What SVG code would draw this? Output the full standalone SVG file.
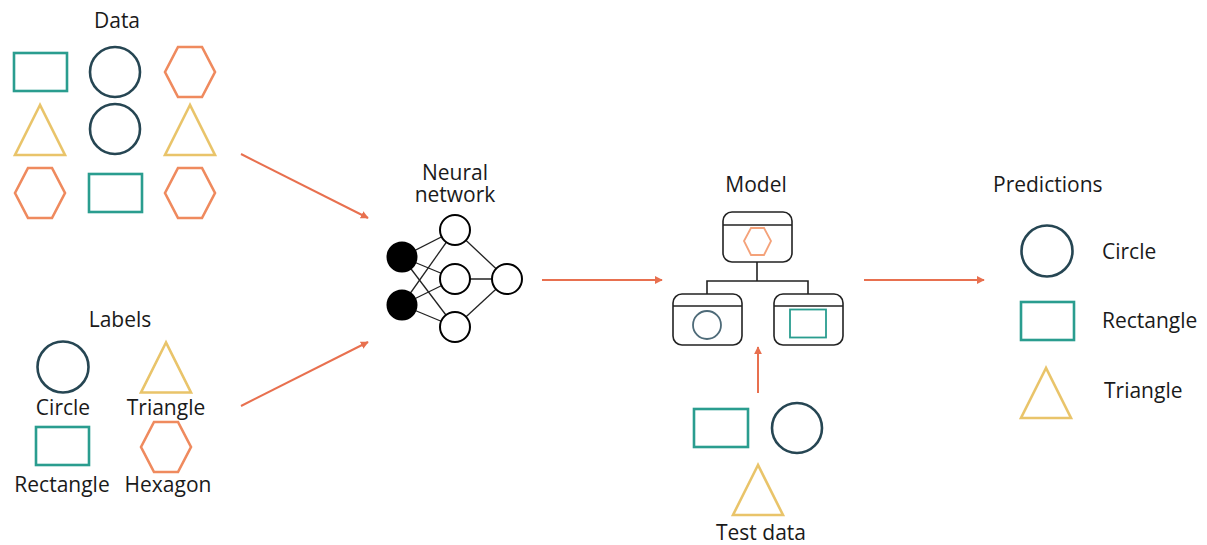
<svg xmlns="http://www.w3.org/2000/svg" width="1207" height="545" viewBox="0 0 1207 545">
<style>
text{font-family:"Open Sans","Liberation Sans",sans-serif;font-size:21px;fill:#1a1a1a}
.c{text-anchor:middle}
.circ{fill:none;stroke:#264653;stroke-width:2.6}
.rect{fill:none;stroke:#2a9d8f;stroke-width:2.6}
.tri{fill:none;stroke:#e9c46a;stroke-width:2.6}
.hex{fill:none;stroke:#ef8a5e;stroke-width:2.6}
.nn{fill:#fff;stroke:#000;stroke-width:2}
.nnf{fill:#000;stroke:#000;stroke-width:2}
.edge{stroke:#222;stroke-width:1.3}
.box{fill:#fff;stroke:#222;stroke-width:1.6}
.arr{stroke:#e8704f;stroke-width:2;fill:none;marker-end:url(#ah)}
</style>
<defs>
<marker id="ah" viewBox="0 0 10 10" refX="9" refY="5" markerWidth="4" markerHeight="4" orient="auto" markerUnits="strokeWidth">
<path d="M0,0 L10,5 L0,10 z" fill="#e8704f"/>
</marker>
<polygon id="hexs" points="-25,0 -12,-25 12,-25 25,0 12,25 -12,25"/>
<polygon id="tris" points="0,-25 -25,25 25,25"/>
</defs>
<rect width="1207" height="545" fill="#fff"/>

<g id="data">
<text class="c" x="117" y="28">Data</text>
<rect class="rect" x="14" y="53" width="53" height="38"/>
<circle class="circ" cx="115" cy="72" r="25"/>
<use class="hex" href="#hexs" x="190" y="72"/>
<use class="tri" href="#tris" x="40" y="130"/>
<circle class="circ" cx="115" cy="129" r="25"/>
<use class="tri" href="#tris" x="190" y="130"/>
<use class="hex" href="#hexs" x="40" y="193"/>
<rect class="rect" x="89" y="174" width="53" height="38"/>
<use class="hex" href="#hexs" x="190" y="193"/>
</g>

<g id="labels">
<text class="c" x="120" y="327">Labels</text>
<circle class="circ" cx="63" cy="367" r="25.5"/>
<use class="tri" href="#tris" x="166" y="367.5"/>
<text class="c" x="63" y="415">Circle</text>
<text class="c" x="166" y="415">Triangle</text>
<rect class="rect" x="36" y="427" width="53" height="38"/>
<use class="hex" href="#hexs" x="166" y="447"/>
<text class="c" x="62" y="492">Rectangle</text>
<text class="c" x="168" y="492">Hexagon</text>
</g>

<g id="neural-network">
<text class="c" x="455" y="180">Neural</text>
<text class="c" x="455" y="202">network</text>
<g>
<line class="edge" x1="402" y1="257" x2="455" y2="230"/>
<line class="edge" x1="402" y1="257" x2="455" y2="279"/>
<line class="edge" x1="402" y1="257" x2="455" y2="327"/>
<line class="edge" x1="402" y1="305" x2="455" y2="230"/>
<line class="edge" x1="402" y1="305" x2="455" y2="279"/>
<line class="edge" x1="402" y1="305" x2="455" y2="327"/>
<line class="edge" x1="455" y1="230" x2="507" y2="279"/>
<line class="edge" x1="455" y1="279" x2="507" y2="279"/>
<line class="edge" x1="455" y1="327" x2="507" y2="279"/>
</g>
<circle class="nnf" cx="402" cy="257" r="14.5"/>
<circle class="nnf" cx="402" cy="305" r="14.5"/>
<circle class="nn" cx="455" cy="230" r="15"/>
<circle class="nn" cx="455" cy="279" r="15"/>
<circle class="nn" cx="455" cy="327" r="15"/>
<circle class="nn" cx="507" cy="279" r="15"/>
</g>

<g id="model">
<text class="c" x="756" y="192">Model</text>
<path d="M757,262 V281 M707,294 V281 H808 V294" fill="none" stroke="#222" stroke-width="1.6"/>
<rect class="box" x="723" y="212" width="69" height="50" rx="9"/>
<line x1="723" y1="225" x2="792" y2="225" stroke="#222" stroke-width="1.6"/>
<polygon points="744,241 751,228 764,228 771,241 764,255 751,255" fill="none" stroke="#f4a27a" stroke-width="1.8"/>
<rect class="box" x="673" y="294" width="69" height="51" rx="9"/>
<line x1="673" y1="306" x2="742" y2="306" stroke="#222" stroke-width="1.6"/>
<circle cx="707" cy="325" r="14" fill="none" stroke="#4d6a78" stroke-width="1.8"/>
<rect class="box" x="774" y="294" width="69" height="51" rx="9"/>
<line x1="774" y1="306" x2="843" y2="306" stroke="#222" stroke-width="1.6"/>
<rect x="790" y="309.5" width="36" height="28" fill="none" stroke="#2a9d8f" stroke-width="1.8"/>
</g>

<g id="test-data">
<rect class="rect" x="694" y="409" width="54" height="38"/>
<circle class="circ" cx="797" cy="428" r="25"/>
<use class="tri" href="#tris" x="758" y="490"/>
<text class="c" x="761" y="540">Test data</text>
</g>

<g id="predictions">
<text x="993" y="192">Predictions</text>
<circle class="circ" cx="1047" cy="251" r="25.5"/>
<text x="1102" y="259">Circle</text>
<rect class="rect" x="1021" y="302" width="53" height="38"/>
<text x="1102" y="328">Rectangle</text>
<use class="tri" href="#tris" x="1046" y="393"/>
<text x="1104" y="398">Triangle</text>
</g>

<g id="connectors">
<line class="arr" x1="241" y1="154" x2="368" y2="218"/>
<line class="arr" x1="241" y1="406" x2="368" y2="342"/>
<line class="arr" x1="542" y1="280" x2="662" y2="280"/>
<line class="arr" x1="864" y1="280" x2="984" y2="280"/>
<line class="arr" x1="758" y1="393" x2="758" y2="347"/>
</g>
</svg>
